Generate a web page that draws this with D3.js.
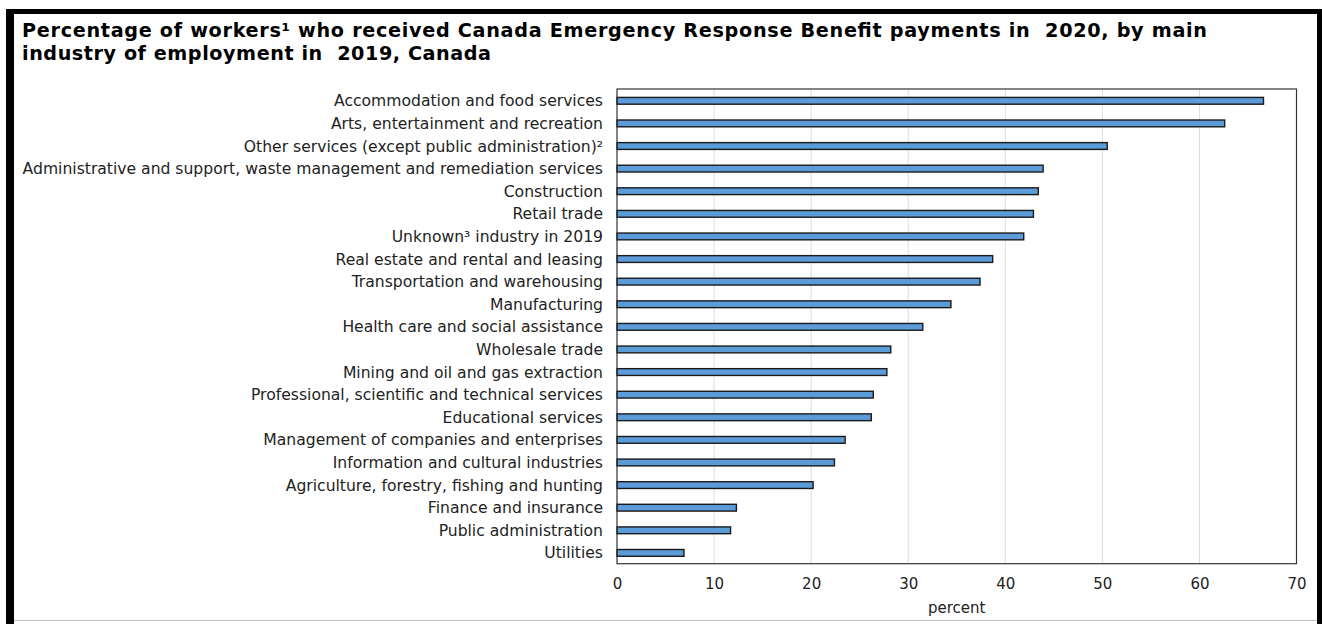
<!DOCTYPE html>
<html>
<head>
<meta charset="utf-8">
<script src="https://cdn.jsdelivr.net/npm/d3@7"></script>
<style>
  html, body { margin: 0; padding: 0; background: #fff; }
  svg { display: block; }
</style>
</head>
<body>
<svg id="chart" width="1322" height="624"></svg>
<script>
const categories = [
  "Accommodation and food services",
  "Arts, entertainment and recreation",
  "Other services (except public administration)\u00B2",
  "Administrative and support, waste management and remediation services",
  "Construction",
  "Retail trade",
  "Unknown\u00B3 industry in 2019",
  "Real estate and rental and leasing",
  "Transportation and warehousing",
  "Manufacturing",
  "Health care and social assistance",
  "Wholesale trade",
  "Mining and oil and gas extraction",
  "Professional, scientific and technical services",
  "Educational services",
  "Management of companies and enterprises",
  "Information and cultural industries",
  "Agriculture, forestry, fishing and hunting",
  "Finance and insurance",
  "Public administration",
  "Utilities"
];
const values = [66.6, 62.6, 50.5, 43.9, 43.4, 42.9, 41.9, 38.7, 37.4, 34.4, 31.5, 28.2, 27.8, 26.4, 26.2, 23.5, 22.4, 20.2, 12.3, 11.7, 6.9];
const xTicks = [0, 10, 20, 30, 40, 50, 60, 70];
const titleLines = [
  "Percentage of workers\u00B9 who received Canada Emergency Response Benefit payments in  2020, by main",
  "industry of employment in  2019, Canada"
];
const xAxisTitle = "percent";

const svg = d3.select("#chart");
const W = 1322, H = 624;
const font = "'DejaVu Sans', Verdana, sans-serif";

// outer frame
svg.append("rect").attr("x", 0).attr("y", 0).attr("width", W).attr("height", H).attr("fill", "#fff");
svg.append("rect").attr("x", 6).attr("y", 9).attr("width", W - 6).attr("height", 5).attr("fill", "#000");
svg.append("rect").attr("x", 6).attr("y", 9).attr("width", 8).attr("height", H - 9).attr("fill", "#000");
svg.append("rect").attr("x", 1317).attr("y", 9).attr("width", 5).attr("height", H - 9).attr("fill", "#000");
svg.append("rect").attr("x", 14).attr("y", 620).attr("width", 1303).attr("height", 1).attr("fill", "#bbb");

// title
const titleWidths = [1185, 469];
svg.append("g").selectAll("text").data(titleLines).join("text")
  .attr("x", 22).attr("y", (d, i) => 37 + i * 22.5)
  .attr("font-family", font).attr("font-weight", "bold").attr("font-size", 19.2)
  .attr("textLength", (d, i) => titleWidths[i]).attr("lengthAdjust", "spacing")
  .attr("fill", "#000").style("white-space", "pre").attr("xml:space", "preserve").text(d => d);

const pLeft = 617, pRight = 1296.5, pTop = 89, pBottom = 563.7;
const x = d3.scaleLinear().domain([0, 70]).range([pLeft, pRight]);
const y = d3.scaleBand().domain(categories).range([pTop, pBottom]).paddingInner(0.7).paddingOuter(0.35);

// gridlines
svg.append("g").selectAll("line").data(xTicks.slice(1, -1)).join("line")
  .attr("x1", d => x(d)).attr("x2", d => x(d)).attr("y1", pTop).attr("y2", pBottom)
  .attr("stroke", "#dcdcdc").attr("stroke-width", 1);

// bars
svg.append("g").selectAll("rect").data(values).join("rect")
  .attr("x", x(0)).attr("y", (d, i) => y(categories[i]) + 0.5)
  .attr("width", d => x(d) - x(0)).attr("height", y.bandwidth())
  .attr("fill", "#5b9bd8").attr("stroke", "#1a1a1a").attr("stroke-width", 1.4);

// frame
svg.append("rect").attr("x", pLeft).attr("y", pTop).attr("width", pRight - pLeft).attr("height", pBottom - pTop)
  .attr("fill", "none").attr("stroke", "#333").attr("stroke-width", 1.2);

// y labels
const yAxis = d3.axisLeft(y).tickSize(0).tickPadding(14);
const gy = svg.append("g").attr("transform", `translate(${pLeft},1)`).call(yAxis);
gy.select(".domain").remove();
gy.selectAll("text").attr("font-family", font).attr("font-size", 15.6).attr("fill", "#222");

// x axis
const xAxis = d3.axisBottom(x).tickValues(xTicks).tickSize(0).tickPadding(15).tickFormat(d3.format("d"));
const gx = svg.append("g").attr("transform", `translate(0,${pBottom})`).call(xAxis);
gx.select(".domain").remove();
gx.selectAll("text").attr("font-family", font).attr("font-size", 15).attr("fill", "#222");

svg.append("text").attr("x", (pLeft + pRight) / 2).attr("y", 613).attr("text-anchor", "middle")
  .attr("font-family", font).attr("font-size", 15).attr("fill", "#222").text(xAxisTitle);
</script>
</body>
</html>
